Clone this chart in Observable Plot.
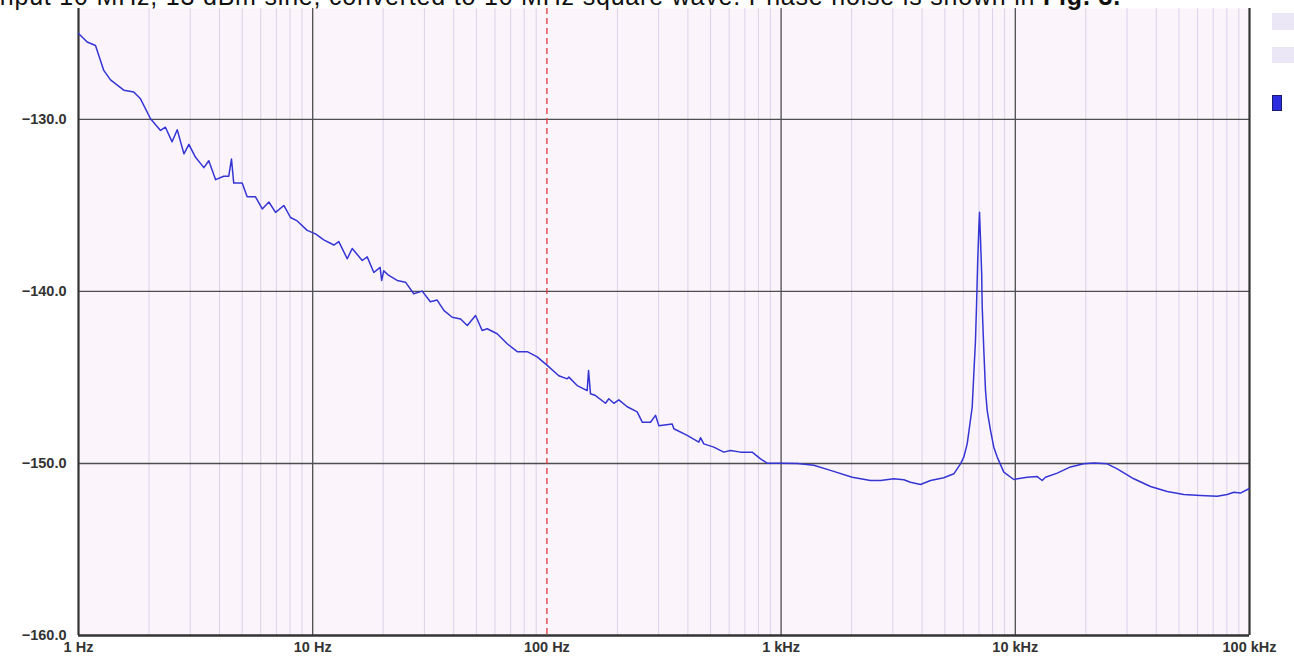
<!DOCTYPE html>
<html>
<head>
<meta charset="utf-8">
<script src="https://cdn.jsdelivr.net/npm/d3@7"></script>
<script src="https://cdn.jsdelivr.net/npm/@observablehq/plot@0.6"></script>
<style>
  html, body { margin: 0; padding: 0; background: #ffffff; overflow: hidden; }
  #wrap { position: relative; width: 1294px; height: 659px; }
  #wrap svg { position: absolute; left: 0; top: 0; }
  .side-box { position: absolute; left: 1272px; width: 22px; background: #ece7f6; }
  .side-swatch { position: absolute; left: 1272px; top: 95px; width: 10px; height: 16px;
                 background: #2d2de0; border: 1px solid #1a1a70; box-sizing: border-box; }
</style>
</head>
<body>
<div id="wrap"></div>
<script>
// ---- data ----
const freqHz = [
  1.00, 1.089, 1.182, 1.282, 1.370, 1.561, 1.722, 1.840, 2.03, 2.24, 2.35, 2.51, 2.64, 2.82, 2.96,
  3.16, 3.43, 3.60, 3.85, 4.17, 4.38, 4.50, 4.60, 5.00, 5.25, 5.70, 6.09, 6.50, 6.94, 7.53, 8.04,
  8.59, 9.47, 10.28, 11.15, 12.31, 12.93, 14.04, 14.75, 16.27, 17.09, 18.24, 19.4, 19.7, 20.1, 21.13,
  22.95, 24.9, 27.0, 29.35, 31.8, 34.0, 36.3, 39.4, 42.8, 45.7, 49.6, 52.9, 55.6, 61.3, 67.7, 74.7,
  82.4, 90.9, 100.3, 112.4, 122.1, 124.1, 134.7, 148.6, 150.6, 153.5, 161.3, 177.9, 183.8, 193.1,
  202.8, 220.3, 243.0, 255.3, 277.0, 290.9, 300.5, 342.8, 348.3, 397.2, 445.4, 452.8, 467.7, 516.1,
  569.2, 608.0, 670.8, 752.7, 816.9, 872.4, 994, 1172, 1379, 1625, 2012, 2408, 2657, 3028, 3341,
  3569, 3938, 4345, 4951, 5464, 5834, 6028, 6232, 6545, 6650, 6761, 6828, 6918, 6990, 7034, 7104,
  7186, 7223, 7339, 7461, 7586, 7838, 8093, 8372, 8932, 9854, 11240, 12405, 13025, 13455, 15098,
  17206, 19609, 21637, 24690, 27240, 32063, 37780, 44520, 52430, 61780, 72780, 80320, 85700, 91540,
  99320
];
const noiseDb = [
  -125.0, -125.5, -125.7, -127.15, -127.7, -128.3, -128.4, -128.8, -129.96, -130.64, -130.45, -131.3, -130.6, -132.0, -131.45,
  -132.2, -132.8, -132.4, -133.5, -133.3, -133.3, -132.3, -133.7, -133.7, -134.5, -134.5, -135.2, -134.8, -135.4, -135.0, -135.7,
  -135.9, -136.45, -136.65, -137.0, -137.3, -137.1, -138.1, -137.5, -138.2, -137.99, -138.9, -138.6, -139.36, -138.8, -139.07,
  -139.36, -139.46, -140.13, -139.98, -140.6, -140.5, -141.1, -141.5, -141.6, -141.98, -141.4, -142.27, -142.17, -142.46, -143.04, -143.5,
  -143.5, -143.8, -144.3, -144.9, -145.08, -144.98, -145.47, -145.76, -144.6, -145.95, -146.05, -146.5, -146.24, -146.5,
  -146.3, -146.7, -147.0, -147.6, -147.6, -147.2, -147.8, -147.7, -147.98, -148.37, -148.76, -148.5, -148.86, -149.05,
  -149.34, -149.24, -149.34, -149.34, -149.73, -149.98, -149.98, -150.0, -150.1, -150.4, -150.8, -150.99, -150.99, -150.89, -150.95,
  -151.09, -151.22, -150.99, -150.83, -150.6, -150.02, -149.63, -148.86, -146.73, -144.8, -142.85, -140.9, -138.0, -136.26, -135.39, -137.0,
  -139.0, -140.9, -143.43, -145.76, -146.92, -148.08, -149.05, -149.63, -150.5, -150.93, -150.8, -150.76, -150.99, -150.8, -150.56,
  -150.2, -150.02, -149.97, -150.02, -150.31, -150.89, -151.34, -151.63, -151.8, -151.86, -151.9, -151.8, -151.67, -151.72,
  -151.47
];
const xTicks = [1, 10, 100, 1000, 10000, 100000];
const xTickLabels = ["1 Hz", "10 Hz", "100 Hz", "1 kHz", "10 kHz", "100 kHz"];
const yTicks = [-130, -140, -150, -160];
const majorGridX = [10, 1000, 10000];
const majorGridY = [-130, -140, -150];
const decades = [1, 10, 100, 1000, 10000];
const minorSteps = [2, 3, 4, 5, 6, 7, 8, 9];
const markerFreq = [100];
const captionMain = "Input 10 MHz, 13 dBm sine, converted to 10 MHz square wave. Phase noise is shown in ";
const captionBold = "Fig. 3.";

// ---- build ----
const data = freqHz.map((f, i) => ({f, db: noiseDb[i]}));
const minorGrid = decades.flatMap(d => minorSteps.map(s => d * s));

const tickText = {fontWeight: "bold", fontSize: 14.5, fill: "#333333", letterSpacing: "0.5px"};

const chart = Plot.plot({
  width: 1294,
  height: 659,
  marginLeft: 78,
  marginRight: 45,
  marginTop: 8,
  marginBottom: 24,
  style: {fontFamily: "'Liberation Sans', Arial, sans-serif", background: "transparent", overflow: "visible"},
  x: {type: "log", domain: [1, 100000], label: null},
  y: {domain: [-160, -123.55], label: null},
  marks: [
    Plot.frame({fill: "#fbf4fb", stroke: null}),
    Plot.ruleX(minorGrid, {stroke: "#d9d3eb", strokeWidth: 1}),
    Plot.ruleX(majorGridX, {stroke: "#4d4d4d", strokeWidth: 1.3}),
    Plot.ruleY(majorGridY, {stroke: "#4d4d4d", strokeWidth: 1.3}),
    Plot.ruleX(markerFreq, {stroke: "#e03a3c", strokeWidth: 1.3, strokeDasharray: "6,4"}),
    Plot.ruleX([xTicks[0]], {stroke: "#333333", strokeWidth: 2.2}),
    Plot.ruleX([xTicks[xTicks.length - 1]], {stroke: "#333333", strokeWidth: 2.2}),
    Plot.ruleY([yTicks[yTicks.length - 1]], {stroke: "#333333", strokeWidth: 2.6}),
    Plot.line(data, {x: "f", y: "db", stroke: "#3535d6", strokeWidth: 1.5, strokeLinejoin: "round"}),
    Plot.axisX(xTicks, {tickSize: 0, tickPadding: 6, tickFormat: d => xTickLabels[xTicks.indexOf(d)], ...tickText}),
    Plot.axisY(yTicks, {tickSize: 0, tickPadding: 12, tickFormat: d => "\u2212" + Math.abs(d).toFixed(1), ...tickText})
  ]
});

const svg = d3.select(chart);
const cap = svg.append("text")
  .attr("x", -8).attr("y", 5)
  .attr("text-anchor", "start")
  .attr("font-size", 25)
  .attr("letter-spacing", "0.8px")
  .attr("fill", "#111111")
  .attr("font-family", "'Liberation Sans', Arial, sans-serif");
cap.append("tspan").text(captionMain);
cap.append("tspan").attr("font-weight", "bold").text(captionBold);

const wrap = document.getElementById("wrap");
wrap.appendChild(chart);
const b1 = document.createElement("div"); b1.className = "side-box"; b1.style.top = "13px"; b1.style.height = "17px"; wrap.appendChild(b1);
const b2 = document.createElement("div"); b2.className = "side-box"; b2.style.top = "47px"; b2.style.height = "16px"; wrap.appendChild(b2);
const sw = document.createElement("div"); sw.className = "side-swatch"; wrap.appendChild(sw);
</script>
</body>
</html>
